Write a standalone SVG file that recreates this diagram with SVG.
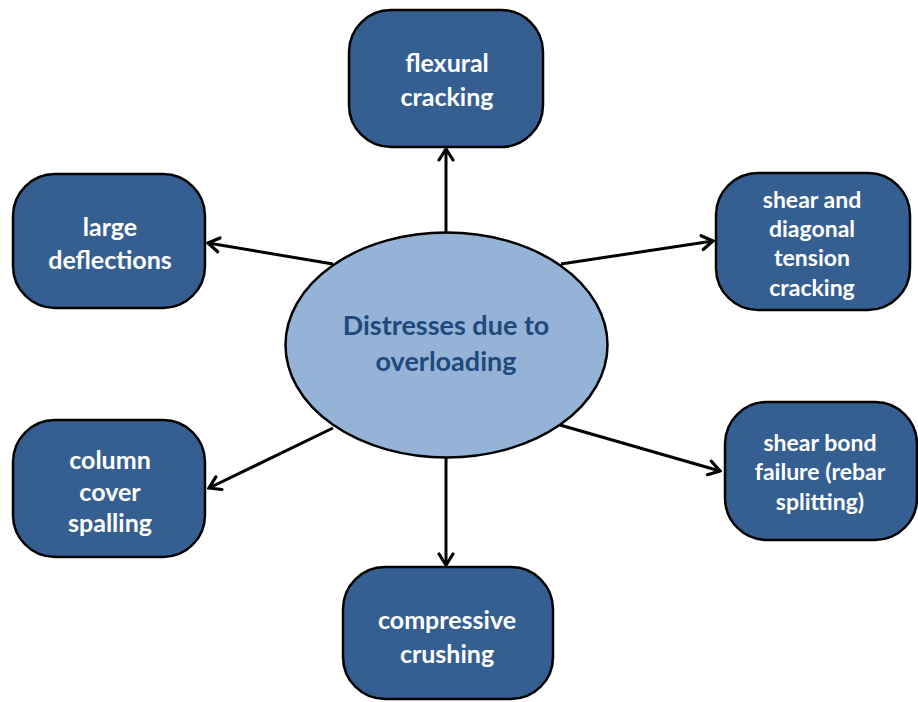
<svg xmlns="http://www.w3.org/2000/svg" width="918" height="702" viewBox="0 0 918 702">
<defs>
<style>
.box{fill:#365F91;stroke:#000;stroke-width:2.5}
.t{font-family:Lato,"Open Sans","Liberation Sans",sans-serif;font-weight:bold;fill:#fff;text-anchor:middle;font-size:25px}
.ts{font-size:23px}
.c{font-family:Lato,"Open Sans","Liberation Sans",sans-serif;font-weight:bold;fill:#1F497D;text-anchor:middle;font-size:27px}
.e{stroke:#000;stroke-width:3;fill:none;marker-end:url(#ah)}
</style>
<marker id="ah" viewBox="0 0 16 18" refX="14" refY="9" markerWidth="16" markerHeight="18" markerUnits="userSpaceOnUse" orient="auto">
<path d="M3,2 L14,9 L3,16" fill="none" stroke="#000" stroke-width="3.2" stroke-linecap="round" stroke-linejoin="miter"/>
</marker>
</defs>
<rect width="918" height="702" fill="#fff"/>
<g id="connectors">
<line class="e" x1="446" y1="232" x2="446" y2="149"/>
<line class="e" x1="561" y1="264" x2="713" y2="241"/>
<line class="e" x1="333" y1="264" x2="208" y2="243"/>
<line class="e" x1="333" y1="428" x2="209" y2="488"/>
<line class="e" x1="560" y1="425" x2="720" y2="471"/>
<line class="e" x1="446" y1="458" x2="446" y2="565"/>
</g>
<g id="center">
<ellipse cx="446.5" cy="345" rx="161" ry="112.5" fill="#95B3D7" stroke="#000" stroke-width="2.5"/>
<text class="c" x="446" y="335">Distresses due to</text>
<text class="c" x="446" y="371">overloading</text>
</g>
<g id="flexural">
<rect class="box" x="349" y="10" width="194" height="137" rx="42"/>
<text class="t" x="447" y="72">flexural</text>
<text class="t" x="447" y="106">cracking</text>
</g>
<g id="shear-diagonal">
<rect class="box" x="716" y="173" width="194" height="137" rx="42"/>
<text class="t ts" x="812" y="208">shear and</text>
<text class="t ts" x="812" y="237">diagonal</text>
<text class="t ts" x="812" y="266">tension</text>
<text class="t ts" x="812" y="296">cracking</text>
</g>
<g id="large-deflections">
<rect class="box" x="13" y="174" width="192" height="134" rx="42"/>
<text class="t" x="110" y="236">large</text>
<text class="t" x="110" y="269">deflections</text>
</g>
<g id="column-cover">
<rect class="box" x="13" y="420" width="192" height="137" rx="42"/>
<text class="t" x="110" y="469">column</text>
<text class="t" x="110" y="501">cover</text>
<text class="t" x="110" y="532">spalling</text>
</g>
<g id="shear-bond">
<rect class="box" x="725" y="402" width="192" height="138" rx="42"/>
<text class="t ts" x="820" y="451">shear bond</text>
<text class="t ts" x="820" y="480">failure (rebar</text>
<text class="t ts" x="820" y="510">splitting)</text>
</g>
<g id="compressive">
<rect class="box" x="343" y="567" width="210" height="132" rx="42"/>
<text class="t" x="447" y="629">compressive</text>
<text class="t" x="447" y="663">crushing</text>
</g>
</svg>
